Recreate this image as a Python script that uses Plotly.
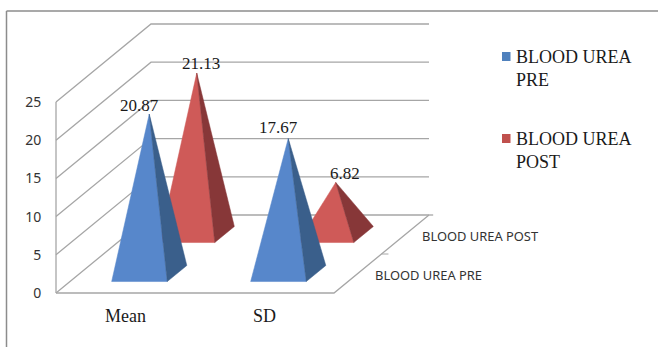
import plotly.graph_objects as go

categories = ["Mean", "SD"]
series_names = ["BLOOD UREA PRE", "BLOOD UREA POST"]
pre_values = [20.87, 17.67]
post_values = [21.13, 6.82]
value_ticks = [0, 5, 10, 15, 20, 25]

W, H = 658, 347
# axis scale: 1 category = 139 px, 1 value unit = 7.64 px, value 0 at pixel (56, 293)
CAT_PX, VAL_PX, X0, Y0 = 139.0, 7.64, 56.0, 293.0
# oblique depth shift of the whole floor (depth 0..1), in axis units
DX, DY = 95.0 / CAT_PX, 78.0 / VAL_PX
HALF_W, HALF_D = 0.20, 0.103
GRID = "#a6a6a6"


def proj(cat, depth, value):
    return cat + depth * DX, value + depth * DY


fig = go.Figure()


def line(points, color=GRID, width=1.3):
    xs, ys = zip(*points)
    fig.add_trace(go.Scatter(x=xs, y=ys, mode="lines", line=dict(color=color, width=width),
                             hoverinfo="skip", showlegend=False))


def face(points, color):
    xs, ys = zip(*points)
    fig.add_trace(go.Scatter(x=list(xs) + [xs[0]], y=list(ys) + [ys[0]], mode="lines", fill="toself",
                             fillcolor=color, line=dict(color=color, width=0.5),
                             hoverinfo="skip", showlegend=False))


ncat = len(categories)
# walls
for v in value_ticks:
    line([proj(0, 0, v), proj(0, 1, v), proj(ncat, 1, v)])
line([proj(0, 0, value_ticks[0]), proj(0, 0, value_ticks[-1])])
line([proj(0, 0, 0), proj(ncat, 0, 0), proj(ncat, 1, 0)])
line([proj(ncat, 1, 0), proj(ncat + 0.03, 1, 0)])
line([proj(ncat, 0.5, 0), proj(ncat + 0.05, 0.5, 0)], width=1)

# pyramids, back series first
styles = [("#5787cb", "#3a5f8b"), ("#cf5a58", "#873738")]
depths = [0.25, 0.75]
shifts = [[(-10, 9), (-10, 11)], [(4, 10), (9, 9)]]
for s in (1, 0):
    vals = [pre_values, post_values][s]
    front, side = styles[s]
    d = depths[s]
    for i, v in enumerate(vals):
        c = i + 0.5
        fl = proj(c - HALF_W, d - HALF_D, 0)
        fr = proj(c + HALF_W, d - HALF_D, 0)
        br = proj(c + HALF_W, d + HALF_D, 0)
        apex = proj(c, d, v)
        face([fl, fr, apex], front)
        face([fr, br, apex], side)
for s in (0, 1):
    vals = [pre_values, post_values][s]
    for i, v in enumerate(vals):
        ax, ay = proj(i + 0.5, depths[s], v)
        fig.add_annotation(x=ax, y=ay, text=f"{v:.2f}", showarrow=False, xshift=shifts[s][i][0],
                           yshift=shifts[s][i][1], xanchor="center", yanchor="middle",
                           font=dict(family="Liberation Serif", size=17, color="#1a1a1a"))

# depth axis labels
for (name, px, py) in ((series_names[1], 480, 236), (series_names[0], 428, 275)):
    fig.add_annotation(xref="paper", yref="paper", x=px / W, y=1 - py / H, text=name, showarrow=False,
                       xanchor="center", yanchor="middle",
                       font=dict(family="Noto Sans", size=12.9, color="#333333"))

# legend
for k, (top, col) in enumerate(((52, "#4f81bd"), (134, "#c0504d"))):
    fig.add_shape(type="rect", xref="paper", yref="paper", x0=502 / W, x1=510.5 / W,
                  y0=1 - top / H, y1=1 - (top + 9) / H, fillcolor=col, line=dict(width=0))
    first, second = series_names[k].rsplit(" ", 1)
    fig.add_annotation(xref="paper", yref="paper", x=514 / W, y=1 - (top + 16) / H, xanchor="left",
                       yanchor="middle", align="left", text=f"{first}<br>{second}", showarrow=False,
                       font=dict(family="Liberation Serif", size=18, color="#1a1a1a"))

# outer frame
fig.add_shape(type="line", xref="paper", yref="paper", x0=6.5 / W, x1=1, y0=1 - 11 / H, y1=1 - 11 / H,
              line=dict(color="#8c8c8c", width=1.5))
fig.add_shape(type="line", xref="paper", yref="paper", x0=6.5 / W, x1=6.5 / W, y0=1 - 11 / H, y1=0,
              line=dict(color="#8c8c8c", width=1.5))

fig.update_layout(
    width=W, height=H, margin=dict(l=0, r=0, t=0, b=0), paper_bgcolor="white", plot_bgcolor="white",
    showlegend=False,
    xaxis=dict(range=[-X0 / CAT_PX, (W - X0) / CAT_PX], domain=[0, 1], anchor="free", position=(H - Y0) / H,
               tickmode="array", tickvals=[i + 0.5 for i in range(ncat)], ticktext=categories,
               showgrid=False, zeroline=False, showline=False, ticks="outside", ticklen=6,
               tickcolor="rgba(0,0,0,0)",
               tickfont=dict(family="Liberation Serif", size=18, color="#1a1a1a")),
    yaxis=dict(range=[-(H - Y0) / VAL_PX, Y0 / VAL_PX], domain=[0, 1], anchor="free", position=X0 / W,
               tickmode="array", tickvals=value_ticks, showgrid=False, zeroline=False, showline=False,
               ticks="outside", ticklen=12, tickcolor="rgba(0,0,0,0)",
               tickfont=dict(family="Noto Sans", size=14, color="#333333")),
)
fig.write_html("out.html", config=dict(displayModeBar=False),
               post_script="document.body.style.margin='0';")
